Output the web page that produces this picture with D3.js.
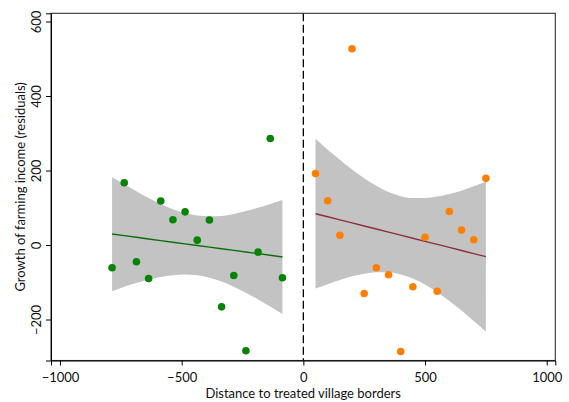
<!DOCTYPE html>
<html><head><meta charset="utf-8">
<script src="https://cdn.jsdelivr.net/npm/d3@7"></script>
<style>body{margin:0;background:#fff}svg{display:block}text{font-family:Lato,"DejaVu Sans",sans-serif;fill:#111}</style>
</head><body><div id="chart"></div>
<script>
// ---- data ----
const leftX = [-786,-736,-686,-636,-586,-536,-486,-436,-386,-336,-286,-236,-186,-136,-86];
const leftY = [-61,167,-45,-90,118,68,89,13,67,-166,-82,-284,-19,286,-88];
const rightX = [50,100,150,200,250,300,350,400,450,500,550,600,650,700,750];
const rightY = [192,119,26,527,-130,-61,-80,-286,-112,21,-124,90,40,14,179];
// fitted line and 95% band (at each x)
const leftFit   = [29.5,25.1,20.7,16.3,11.9,7.5,3.1,-1.3,-5.6,-10.0,-14.4,-18.8,-23.2,-27.6,-32.0];
const leftUpper = [182,163,144,126,110,96,85,79,77,78,83,91,100,110,121];
const leftLower = [-124,-112,-102,-93,-86,-81,-79,-81,-88,-98,-112,-128,-146,-165,-185];
const rightFit   = [84.0,75.8,67.6,59.3,51.1,42.9,34.6,26.4,18.2,9.9,1.7,-6.5,-14.8,-23.0,-31.2];
const rightUpper = [285,256,229,203,179,159,142,131,126,126,130,137,146,158,170];
const rightLower = [-117,-105,-94,-84,-77,-73,-73,-79,-90,-106,-127,-150,-176,-204,-232];
const xTicks = [-1000,-500,0,500,1000];
const yTicks = [-200,0,200,400,600];
const xTitle = "Distance to treated village borders";
const yTitle = "Growth of farming income (residuals)";

const W = 569, H = 402;
const m = {left:51, right:569-555.3, top:13.3, bottom:402-360.5};
const svg = d3.select("#chart").append("svg").attr("width",W).attr("height",H);
const x = d3.scaleLinear().domain([-1037,1035.3]).range([m.left, W-m.right]);
const y = d3.scaleLinear().domain([-310,622]).range([H-m.bottom, m.top]);

function band(xs, lo, hi, fit, col){
  const pts = xs.map((v,i)=>({x:v, lo:lo[i], hi:hi[i], f:fit[i]}));
  svg.append("path").datum(pts)
    .attr("d", d3.area().x(d=>x(d.x)).y0(d=>y(d.lo)).y1(d=>y(d.hi)).curve(d3.curveMonotoneX))
    .attr("fill","#c3c3c3");
  svg.append("path").datum(pts)
    .attr("d", d3.line().x(d=>x(d.x)).y(d=>y(d.f)))
    .attr("fill","none").attr("stroke",col).attr("stroke-width",1.4);
}
band(leftX, leftLower, leftUpper, leftFit, "#0b6e0b");
band(rightX, rightLower, rightUpper, rightFit, "#8c2f3a");

// zero dashed line
svg.append("line").attr("x1",x(0)).attr("x2",x(0)).attr("y1",m.top).attr("y2",H-m.bottom)
  .attr("stroke","#000").attr("stroke-width",1.3).attr("stroke-dasharray","8,3.5");

svg.append("g").selectAll("circle").data(leftX.map((v,i)=>[v,leftY[i]])).join("circle")
  .attr("cx",d=>x(d[0])).attr("cy",d=>y(d[1])).attr("r",3.8).attr("fill","#078407");
svg.append("g").selectAll("circle").data(rightX.map((v,i)=>[v,rightY[i]])).join("circle")
  .attr("cx",d=>x(d[0])).attr("cy",d=>y(d[1])).attr("r",3.8).attr("fill","#ff8000");

// frame
svg.append("rect").attr("x",m.left).attr("y",m.top).attr("width",W-m.right-m.left).attr("height",H-m.bottom-m.top)
  .attr("fill","none").attr("stroke","#333").attr("stroke-width",1.1);

const gx = svg.append("g").attr("transform",`translate(0,${H-m.bottom})`)
  .call(d3.axisBottom(x).tickValues(xTicks).tickSize(5).tickFormat(d3.format("d")));
gx.select(".domain").attr("stroke","#000");
gx.selectAll("text").attr("font-size",13).attr("fill","#111").attr("font-family","Lato")
  .attr("y",21).attr("dy",0);
gx.selectAll("line").attr("stroke","#000");

const gy = svg.append("g").attr("transform",`translate(${m.left},0)`)
  .call(d3.axisLeft(y).tickValues(yTicks).tickSize(5).tickFormat(d3.format("d")));
gy.select(".domain").attr("stroke","#000");
gy.selectAll("line").attr("stroke","#000");
gy.selectAll("text").attr("font-size",13).attr("fill","#111").attr("font-family","Lato")
  .attr("text-anchor","middle").attr("dy",0).attr("x",0)
  .attr("transform",d=>`translate(-10.5,0) rotate(-90)`);

svg.append("text").attr("x",(m.left+W-m.right)/2).attr("y",398).attr("text-anchor","middle")
  .attr("font-size",13).text(xTitle);
svg.append("text").attr("transform",`translate(25,${(m.top+H-m.bottom)/2}) rotate(-90)`)
  .attr("text-anchor","middle").attr("font-size",13).text(yTitle);
</script></body></html>
